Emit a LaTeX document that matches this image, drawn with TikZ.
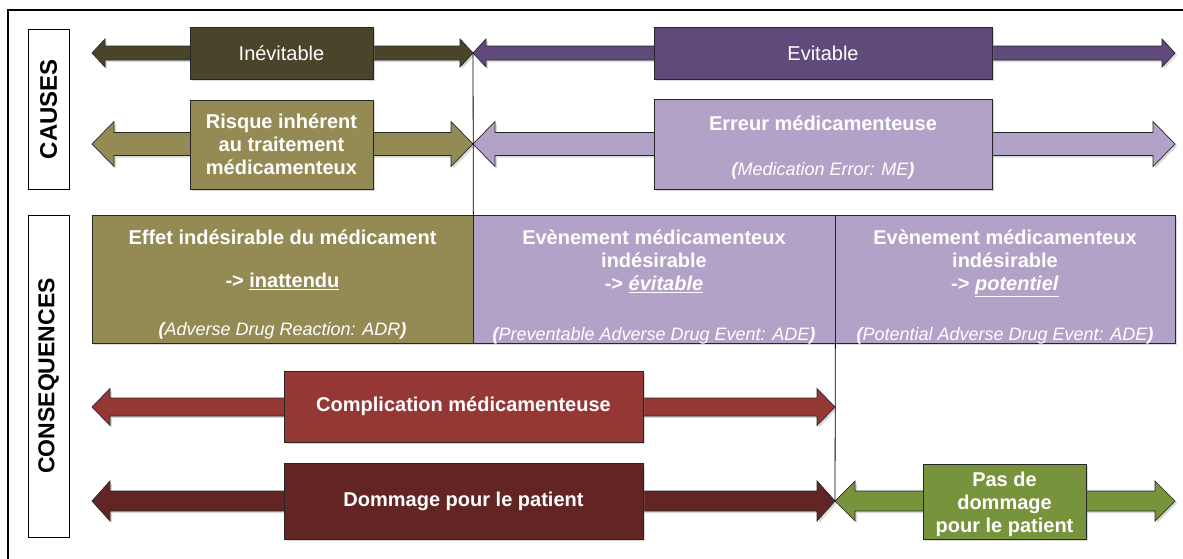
\documentclass[tikz,border=0pt]{standalone}
\usepackage{fontspec}
\setmainfont{Liberation Sans}
\usetikzlibrary{calc,shadows}

\definecolor{inevit}{HTML}{4A452A}
\definecolor{risque}{HTML}{948A54}
\definecolor{evit}{HTML}{604A7B}
\definecolor{erreur}{HTML}{B3A2C7}
\definecolor{complic}{HTML}{953735}
\definecolor{dommage}{HTML}{632523}
\definecolor{pasdom}{HTML}{77933C}

\tikzset{
  boxshadow/.style={drop shadow={shadow xshift=2pt,shadow yshift=-2pt,opacity=.3}},
  boxtext/.style={inner sep=0pt, align=center, text=white, font=\bfseries\fontsize{20}{23}\selectfont},
  box/.style={draw=black!85, line width=0.7pt, boxtext, boxshadow},
  sidelabel/.style={draw=black, line width=0.8pt, rotate=90, minimum height=41, inner sep=0pt,
    font=\bfseries\fontsize{24}{24}\selectfont},
  divider/.style={draw=black, line width=0.8pt},
}

% block arrow between two named points: shaft half-width, head half-width, head length, colour
\newcommand{\blockarrow}[6]{%
  \filldraw[fill=#6, draw=black!85, line width=0.7pt, boxshadow]
    (#1) -- ($(#1)+(#5,-#4)$) -- ($(#1)+(#5,-#3)$) -- ($(#2)+(-#5,-#3)$)
    -- ($(#2)+(-#5,-#4)$) -- (#2) -- ($(#2)+(-#5,#4)$) -- ($(#2)+(-#5,#3)$)
    -- ($(#1)+(#5,#3)$) -- ($(#1)+(#5,#4)$) -- cycle;}
% italic abbreviation with bold brackets
\newcommand{\abbr}[1]{{\mdseries\itshape\fontsize{18}{23}\selectfont\textbf{(}#1\textbf{)}}}
\newcommand{\uword}[1]{\underline{#1}}

\begin{document}
\begin{tikzpicture}[x=1pt,y=-1pt]
\useasboundingbox (0,0) rectangle (1183,558);
% outer frame, it runs off the page right and bottom
\draw[line width=1.5pt] (8,570) -- (8,10) -- (1195,10);

% side labels
\node[sidelabel, minimum width=160] (causes) at (48.5,109) {CAUSES};
\node[sidelabel, minimum width=322, font=\bfseries\fontsize{23}{23}\selectfont] (conseq) at (48.5,376) {CONSEQUENCES};

% arrow ends
\coordinate (a1l) at (92,53);  \coordinate (a1m) at (473,53);  \coordinate (a1r) at (1175,53);
\coordinate (a2l) at (92,144); \coordinate (a2m) at (473,144); \coordinate (a2r) at (1175,144);
\coordinate (a4l) at (92,407); \coordinate (a4r) at (835,407);
\coordinate (a5l) at (92,501); \coordinate (a5m) at (835,501); \coordinate (a5r) at (1175,501);

\blockarrow{a1l}{a1m}{7}{14}{13}{inevit}
\blockarrow{a1m}{a1r}{7}{14}{13}{evit}
\blockarrow{a2l}{a2m}{11.5}{22.5}{22}{risque}
\blockarrow{a2m}{a2r}{11.5}{22.5}{22}{erreur}
\blockarrow{a4l}{a4r}{9}{18.5}{18}{complic}
\blockarrow{a5l}{a5m}{10}{20}{18}{dommage}
\blockarrow{a5m}{a5r}{10}{20}{20}{pasdom}

% causes
\node[box, fill=inevit, font=\fontsize{20}{23}\selectfont, minimum width=183, minimum height=52]
  (inev) at (281.5,53) {Inévitable};
\node[box, fill=evit, font=\fontsize{20}{23}\selectfont, minimum width=338, minimum height=52]
  (evit) at (823,53) {Evitable};
\node[box, fill=risque, minimum width=183, minimum height=89]
  (risk) at (281.5,144.5) {Risque inhérent\\au traitement\\médicamenteux};
\node[box, fill=erreur, minimum width=338, minimum height=90] (me) at (823,144) {};
\node[boxtext] (metext) at ([yshift=-4pt]me.center)
  {Erreur médicamenteuse\\[22pt]\abbr{Medication Error: ME}};

% consequences
\node[box, fill=risque, minimum width=381, minimum height=128] (adr) at (282.5,279) {};
\node[box, fill=erreur, minimum width=362, minimum height=128] (pade) at (654,279) {};
\node[box, fill=erreur, minimum width=340, minimum height=128] (potade) at (1005,279) {};
\node[boxtext] (adrtext) at ([yshift=-6pt]adr.center)
  {Effet indésirable du médicament\\[20pt]-> \uword{inattendu}\\[25pt]\abbr{Adverse Drug Reaction: ADR}};
\node[boxtext] (padetext) at ([yshift=-8pt]pade.center)
  {Evènement médicamenteux\\indésirable\\-> \uword{\textit{évitable}}\\[27pt]\abbr{Preventable Adverse Drug Event: ADE}};
\node[boxtext] (potadetext) at ([yshift=-8pt]potade.center)
  {Evènement médicamenteux\\indésirable\\-> \uword{\textit{potentiel}}\\[27pt]\abbr{Potential Adverse Drug Event: ADE}};

\node[box, fill=complic, minimum width=359, minimum height=71] (compl) at (463.5,406.5)
  {Complication médicamenteuse};
\node[box, fill=dommage, minimum width=359, minimum height=76] (dom) at (463.5,501)
  {Dommage pour le patient};
\node[box, fill=pasdom, minimum width=163, minimum height=75] (nodom) at (1004.5,501.5) {};
\node[boxtext] (nodomtext) at ([yshift=-3pt]nodom.center) {Pas de\\dommage\\pour le patient};

% dividers
\draw[divider] (a1m) -- (adr.north east);
\draw[divider] (pade.south east) -- (a5m);
\end{tikzpicture}
\end{document}
